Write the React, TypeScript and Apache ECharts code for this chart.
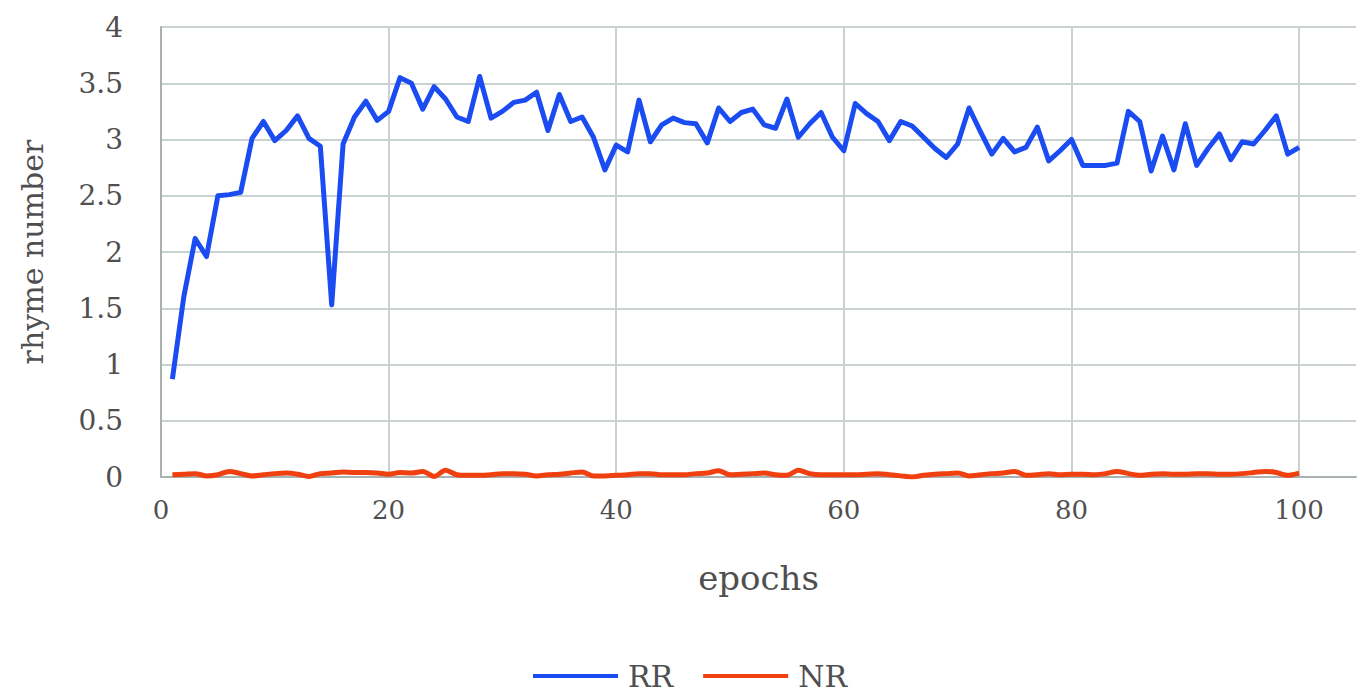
import React, { useEffect, useRef } from "react";
import * as echarts from "echarts";

const epochs: number[] = Array.from({ length: 100 }, (_, i) => i + 1);

const rrValues: number[] = [
  0.87, 1.6, 2.12, 1.96, 2.5, 2.51, 2.53, 3.01, 3.16, 2.99,
  3.08, 3.21, 3.01, 2.94, 1.53, 2.96, 3.2, 3.34, 3.17, 3.25,
  3.55, 3.5, 3.27, 3.47, 3.36, 3.2, 3.16, 3.56, 3.19, 3.25,
  3.33, 3.35, 3.42, 3.08, 3.4, 3.16, 3.2, 3.02, 2.73, 2.95,
  2.89, 3.35, 2.98, 3.13, 3.19, 3.15, 3.14, 2.97, 3.28, 3.16,
  3.24, 3.27, 3.13, 3.1, 3.36, 3.02, 3.14, 3.24, 3.02, 2.9,
  3.32, 3.23, 3.16, 2.99, 3.16, 3.12, 3.02, 2.92, 2.84, 2.96,
  3.28, 3.07, 2.87, 3.01, 2.89, 2.93, 3.11, 2.81, 2.9, 3.0,
  2.77, 2.77, 2.77, 2.79, 3.25, 3.16, 2.72, 3.03, 2.73, 3.14,
  2.77, 2.92, 3.05, 2.82, 2.98, 2.96, 3.08, 3.21, 2.87, 2.93,
];

const nrValues: number[] = [
  0.02, 0.025, 0.03, 0.01, 0.02, 0.05, 0.03, 0.01, 0.02, 0.03,
  0.035, 0.025, 0.005, 0.03, 0.035, 0.045, 0.04, 0.04, 0.035, 0.025,
  0.04, 0.035, 0.05, 0.005, 0.06, 0.02, 0.015, 0.015, 0.02, 0.03,
  0.03, 0.025, 0.01, 0.02, 0.025, 0.035, 0.045, 0.01, 0.01, 0.015,
  0.02, 0.03, 0.03, 0.02, 0.02, 0.02, 0.03, 0.035, 0.055, 0.02,
  0.025, 0.03, 0.035, 0.02, 0.015, 0.06, 0.03, 0.02, 0.02, 0.02,
  0.02, 0.025, 0.03, 0.02, 0.01, 0.0, 0.015, 0.025, 0.03, 0.035,
  0.01, 0.02, 0.03, 0.035, 0.05, 0.015, 0.02, 0.03, 0.02, 0.025,
  0.025, 0.02, 0.03, 0.05, 0.03, 0.015, 0.025, 0.03, 0.025, 0.025,
  0.03, 0.03, 0.025, 0.025, 0.03, 0.04, 0.05, 0.04, 0.015, 0.035,
];

const seriesNames: string[] = ["RR", "NR"];
const xTickLabels: number[] = [0, 20, 40, 60, 80, 100];

const FONT = "DejaVu Serif";
const TEXT_COLOR = "#4f4f4f";
const GRID_COLOR = "#c9d1d1";
const AXIS_COLOR = "#a9b1b1";

export default function App() {
  const ref = useRef<HTMLDivElement>(null);

  useEffect(() => {
    if (!ref.current) return;
    const chart = echarts.init(ref.current, undefined, { renderer: "svg" });
    const rrData = epochs.map((e, i) => [e, rrValues[i]]);
    const nrData = epochs.map((e, i) => [e, nrValues[i]]);
    chart.setOption({
      animation: false,
      backgroundColor: "#ffffff",
      grid: { left: 161, right: 7, top: 27, bottom: 215, containLabel: false },
      legend: {
        left: 533,
        top: 661,
        padding: 0,
        icon: "rect",
        itemWidth: 85,
        itemHeight: 4,
        itemGap: 30,
        textStyle: {
          fontFamily: FONT,
          fontSize: 30,
          lineHeight: 30,
          color: TEXT_COLOR,
          padding: [0, 0, 0, 5],
        },
        data: seriesNames,
      },
      xAxis: {
        type: "value",
        min: 0,
        max: 105,
        interval: 20,
        name: "epochs",
        nameLocation: "middle",
        nameGap: 84,
        nameTextStyle: { fontFamily: FONT, fontSize: 34, color: TEXT_COLOR },
        axisLine: { show: true, lineStyle: { color: AXIS_COLOR, width: 2 } },
        axisTick: { show: false },
        axisLabel: {
          margin: 20,
          fontFamily: FONT,
          fontSize: 26,
          color: TEXT_COLOR,
          showMaxLabel: false,
          formatter: (v: number) => (xTickLabels.indexOf(v) >= 0 ? String(v) : ""),
        },
        splitLine: {
          show: true,
          showMaxLine: false,
          lineStyle: { color: GRID_COLOR, width: 2 },
        },
      },
      yAxis: {
        type: "value",
        min: 0,
        max: 4,
        interval: 0.5,
        name: "rhyme number",
        nameLocation: "middle",
        nameGap: 114,
        nameTextStyle: { fontFamily: FONT, fontSize: 30, color: TEXT_COLOR },
        axisLine: { show: true, lineStyle: { color: AXIS_COLOR, width: 2 } },
        axisTick: { show: false },
        axisLabel: {
          margin: 38,
          fontFamily: FONT,
          fontSize: 28,
          color: TEXT_COLOR,
        },
        splitLine: { show: true, lineStyle: { color: GRID_COLOR, width: 2 } },
      },
      series: [
        {
          name: seriesNames[0],
          type: "line",
          data: rrData,
          symbol: "none",
          lineStyle: { color: "#1b4cf2", width: 5, join: "round" },
          itemStyle: { color: "#1b4cf2" },
        },
        {
          name: seriesNames[1],
          type: "line",
          data: nrData,
          symbol: "none",
          smooth: 0.3,
          lineStyle: { color: "#f0400f", width: 5 },
          itemStyle: { color: "#f0400f" },
        },
      ],
    });
    return () => chart.dispose();
  }, []);

  return (
    <div
      ref={ref}
      style={{ position: "absolute", left: 0, top: 0, width: 1363, height: 692 }}
    />
  );
}
